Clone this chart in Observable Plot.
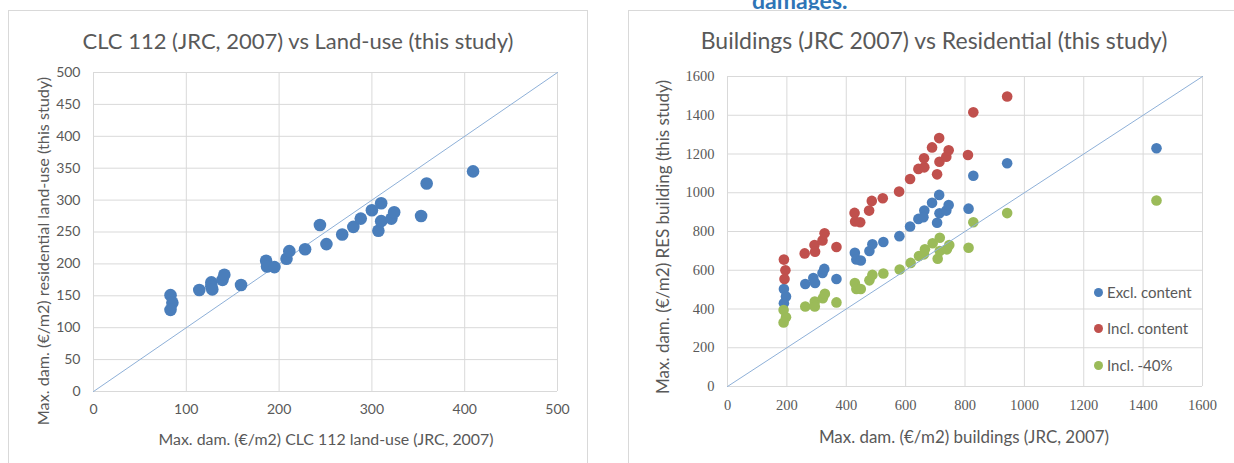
<!DOCTYPE html>
<html>
<head>
<meta charset="utf-8">
<script src="https://cdn.jsdelivr.net/npm/d3@7"></script>
<script src="https://cdn.jsdelivr.net/npm/@observablehq/plot@0.6"></script>
<style>
  html, body { margin: 0; padding: 0; background: #fff; }
  #root { position: relative; width: 1234px; height: 463px; overflow: hidden; font-family: Lato, "Open Sans", sans-serif; color: #595959; }
  .panel { position: absolute; border: 1px solid #d9d9d9; background: #fff; }
  .t { position: absolute; white-space: nowrap; transform: translate(-50%, -50%); }
  .rot { transform: translate(-50%, -50%) rotate(-90deg); }
  .plot { position: absolute; }
  .serif text { font-family: "Liberation Serif", "DejaVu Serif", serif !important; }
  .leg { position: absolute; font-size: 15px; white-space: nowrap; display: flex; align-items: center; }
  .leg span.d { display: inline-block; width: 9px; height: 9px; border-radius: 50%; margin-right: 4px; }
</style>
</head>
<body>
<div id="root"></div>
<script>
// ---------- Left chart data: CLC 112 (JRC, 2007) vs Land-use (this study)
const leftX = [83, 85, 83, 114, 127, 127, 128, 139, 141, 159, 186, 187, 195, 208, 211, 228, 244, 251, 268, 280, 288, 300, 310, 307, 310, 321, 324, 353, 359, 409];
const leftY = [151, 139, 128, 159, 171, 165, 160, 175, 183, 167, 205, 196, 195, 208, 220, 223, 261, 231, 246, 258, 271, 284, 295, 252, 267, 271, 281, 275, 326, 345];
const leftTicksX = [0, 100, 200, 300, 400, 500];
const leftTicksY = [0, 50, 100, 150, 200, 250, 300, 350, 400, 450, 500];
const leftDiag = [0, 500];

// ---------- Right chart data: Buildings (JRC 2007) vs Residential (this study)
const seriesNames = ["Excl. content", "Incl. content", "Incl. -40%"];
const exclX = [190, 197, 190, 262, 289, 295, 320, 326, 367, 429, 434, 449, 478, 488, 525, 579, 615, 643, 663, 660, 689, 713, 706, 714, 737, 745, 812, 828, 942, 1445];
const exclY = [503, 465, 430, 529, 560, 534, 586, 607, 555, 690, 656, 650, 699, 734, 746, 776, 826, 865, 908, 874, 948, 989, 845, 894, 908, 937, 918, 1088, 1152, 1230];
const inclX = [190, 195, 192, 260, 293, 295, 320, 327, 367, 428, 430, 447, 477, 486, 523, 578, 615, 643, 663, 662, 689, 713, 706, 714, 737, 745, 810, 828, 942];
const inclY = [655, 600, 555, 687, 730, 696, 754, 791, 720, 896, 852, 848, 908, 958, 972, 1006, 1071, 1123, 1131, 1178, 1234, 1282, 1095, 1160, 1186, 1219, 1195, 1415, 1497];
const minusX = [189, 197, 189, 262, 294, 294, 321, 328, 367, 429, 434, 449, 478, 488, 525, 580, 617, 645, 665, 662, 691, 715, 708, 715, 739, 747, 812, 828, 942, 1445];
const minusY = [395, 357, 330, 413, 439, 413, 456, 479, 434, 534, 503, 503, 548, 576, 583, 604, 638, 673, 708, 682, 739, 768, 659, 699, 708, 730, 716, 848, 895, 960];
const rightTicks = [0, 200, 400, 600, 800, 1000, 1200, 1400, 1600];
const rightDiag = [0, 1600];
const seriesColors = ["#4a7ebb", "#c0504d", "#9bbb59"];

const root = document.getElementById("root");
function el(tag, cls, style, text) {
  const e = document.createElement(tag);
  if (cls) e.className = cls;
  Object.assign(e.style, style || {});
  if (text != null) e.textContent = text;
  root.appendChild(e);
  return e;
}

// top heading, cut off by the picture's top edge as in the reference
el("div", null, {position: "absolute", left: "752px", top: "-14px", fontSize: "23px", fontWeight: "bold", color: "#2e75b6", fontFamily: "Lato, sans-serif"}, "damages.");

// panels
el("div", "panel", {left: "8px", top: "10px", width: "578px", height: "470px"});
el("div", "panel", {left: "628px", top: "10px", width: "620px", height: "470px"});

// titles
el("div", "t", {left: "298px", top: "40px", fontSize: "22px"}, "CLC 112 (JRC, 2007) vs Land-use (this study)");
el("div", "t", {left: "934px", top: "40px", fontSize: "23px"}, "Buildings (JRC 2007) vs Residential (this study)");

// ---------- Left plot
const leftData = leftX.map((x, i) => ({x, y: leftY[i]}));
const lp = Plot.plot({
  width: 570, height: 410,
  marginLeft: 85, marginRight: 21, marginTop: 22, marginBottom: 69,
  style: {fontFamily: "Lato, sans-serif", fontSize: "14px", color: "#595959", background: "transparent", overflow: "visible"},
  x: {domain: [0, 500], label: null},
  y: {domain: [0, 500], label: null},
  marks: [
    Plot.gridX(leftTicksX, {stroke: "#d9d9d9", strokeOpacity: 1}),
    Plot.gridY(leftTicksY, {stroke: "#d9d9d9", strokeOpacity: 1}),
    Plot.axisX({ticks: leftTicksX, tickSize: 0, tickPadding: 13, label: null, fontSize: 14, tickFormat: d => String(d)}),
    Plot.axisY({ticks: leftTicksY, tickSize: 0, tickPadding: 13, label: null, fontSize: 14, tickFormat: d => String(d)}),
    Plot.line(leftDiag, {x: d => d, y: d => d, stroke: "#8eb0d8", strokeWidth: 1}),
    Plot.dot(leftData, {x: "x", y: "y", r: 6.3, fill: "#4a7ebb", stroke: "none"})
  ]
});
lp.classList.add("plot");
Object.assign(lp.style, {left: "8px", top: "50px"});
root.appendChild(lp);

el("div", "t rot", {left: "42px", top: "251px", fontSize: "16.2px"}, "Max. dam. (€/m2) residential land-use (this study)");
el("div", "t", {left: "326px", top: "438px", fontSize: "15.9px"}, "Max. dam. (€/m2) CLC 112 land-use (JRC, 2007)");

// ---------- Right plot
const rightData = [
  ...exclX.map((x, i) => ({x, y: exclY[i], s: seriesNames[0]})),
  ...inclX.map((x, i) => ({x, y: inclY[i], s: seriesNames[1]})),
  ...minusX.map((x, i) => ({x, y: minusY[i], s: seriesNames[2]}))
];
const rp = Plot.plot({
  width: 600, height: 410,
  marginLeft: 97, marginRight: 28, marginTop: 26, marginBottom: 74,
  style: {fontFamily: "'Liberation Serif', serif", fontSize: "14px", color: "#595959", background: "transparent", overflow: "visible"},
  x: {domain: [0, 1600], label: null},
  y: {domain: [0, 1600], label: null},
  color: {domain: seriesNames, range: seriesColors},
  marks: [
    Plot.gridX(rightTicks, {stroke: "#d9d9d9", strokeOpacity: 1}),
    Plot.gridY(rightTicks, {stroke: "#d9d9d9", strokeOpacity: 1}),
    Plot.axisX({ticks: rightTicks, tickSize: 0, tickPadding: 13, label: null, fontSize: 14.5, tickFormat: d => String(d)}),
    Plot.axisY({ticks: rightTicks, tickSize: 0, tickPadding: 13, label: null, fontSize: 14.5, tickFormat: d => String(d)}),
    Plot.dot(rightData, {x: "x", y: "y", r: 5.3, fill: "s", stroke: "none"}),
    Plot.line(rightDiag, {x: d => d, y: d => d, stroke: "#8eb0d8", strokeWidth: 1})
  ]
});
rp.classList.add("plot");
rp.classList.add("serif");
Object.assign(rp.style, {left: "630px", top: "50px"});
root.appendChild(rp);

el("div", "t rot", {left: "662px", top: "237px", fontSize: "17px"}, "Max. dam. (€/m2) RES building (this study)");
el("div", "t", {left: "964px", top: "436px", fontSize: "16.9px"}, "Max. dam. (€/m2) buildings (JRC, 2007)");

// legend
const legTops = [292, 328, 365];
seriesNames.forEach((n, i) => {
  const d = el("div", "leg", {left: "1094px", top: (legTops[i] - 10) + "px", height: "20px"});
  const dot = document.createElement("span");
  dot.className = "d";
  dot.style.background = seriesColors[i];
  d.appendChild(dot);
  d.appendChild(document.createTextNode(n));
});
</script>
</body>
</html>
